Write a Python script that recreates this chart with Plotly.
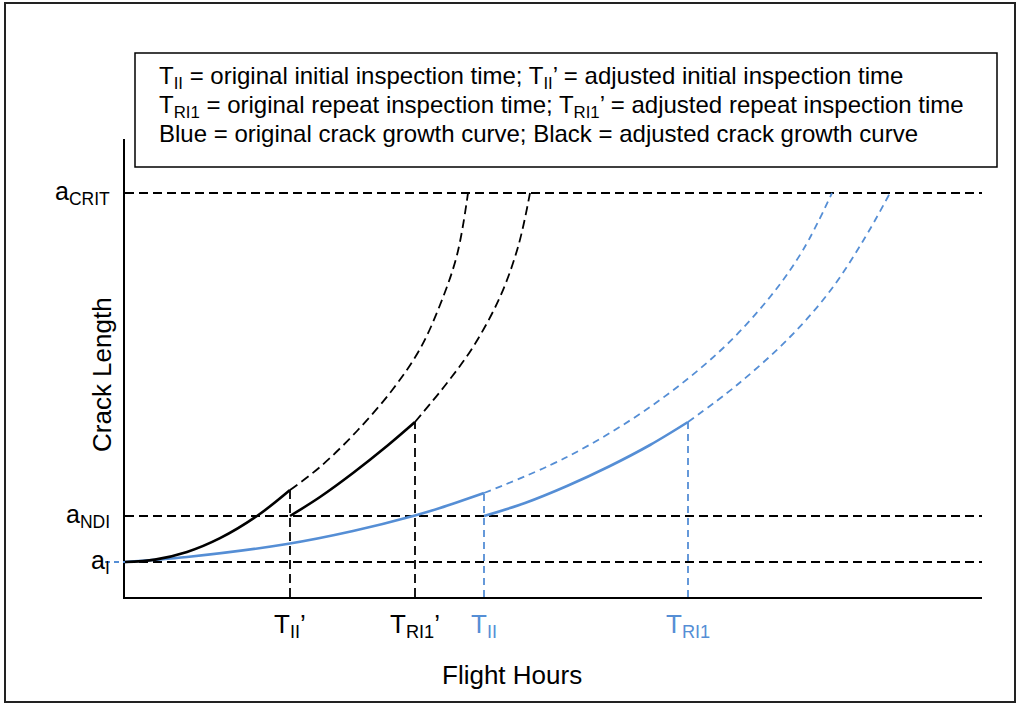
import plotly.graph_objects as go

# ---- data (arbitrary units: flight hours on x, crack length on y) ----
A_I = 35
A_NDI = 81
A_CRIT = 404
X_MAX = 857
Y_MAX = 458

T_II_ADJ = 165
T_RI1_ADJ = 290
T_II = 359
T_RI1 = 563

# adjusted (black) crack growth curves
black1_solid_x = [0, 30, 62, 95, 132, 165]
black1_solid_y = [35, 37.4, 45, 58.8, 81, 107]
black1_dash_x = [165, 195, 232, 268, 295, 315, 332, 343]
black1_dash_y = [107, 130, 166, 208, 248, 292, 342, 404]
black2_solid_x = [165, 195, 228, 262, 290]
black2_solid_y = [81, 100, 124, 151, 175]
black2_dash_x = [290, 322, 348, 375, 393, 405]
black2_dash_y = [175, 214, 250, 300, 350, 404]

# original (blue) crack growth curves
blue1_solid_x = [0, 62, 162, 228, 290, 315, 359]
blue1_solid_y = [35, 40, 53, 66, 81.5, 89, 104]
blue1_dash_x = [359, 442, 525, 595, 645, 678, 707]
blue1_dash_y = [104, 140, 190, 246, 300, 347, 404]
blue2_solid_x = [359, 400, 442, 484, 525, 563]
blue2_solid_y = [81, 94, 111, 130.5, 152, 175]
blue2_dash_x = [563, 612, 665, 705, 738, 765]
blue2_dash_y = [175, 212, 260, 306, 356, 404]

legend_lines = [
    "T<sub>II</sub> = original initial inspection time; T<sub>II</sub>’ = adjusted initial inspection time",
    "T<sub>RI1</sub> = original repeat inspection time; T<sub>RI1</sub>’ = adjusted repeat inspection time",
    "Blue = original crack growth curve; Black = adjusted crack growth curve",
]

BLUE = "#558ED5"
BLACK = "#000000"
FONT = "Liberation Sans, Arial, sans-serif"

W, H = 1020, 706
L, R, T, B = 125, 38, 139, 109


def px_x(px):
    return (px - L) / (W - L - R)


def px_y(py):
    return (H - B - py) / (H - T - B)


fig = go.Figure()


def add_line(x, y, color, width, dash=None, shape="linear"):
    fig.add_trace(go.Scatter(x=x, y=y, mode="lines",
                             line=dict(color=color, width=width, dash=dash, shape=shape),
                             showlegend=False, hoverinfo="skip"))


DASH_BLACK = "9px,5px"
DASH_BLUE = "7px,5px"

# horizontal reference levels
for lvl in [A_I, A_NDI, A_CRIT]:
    add_line([0, X_MAX], [lvl, lvl], BLACK, 1.8, DASH_BLACK)

# vertical inspection-time lines
add_line([T_II_ADJ, T_II_ADJ], [0, black1_solid_y[-1]], BLACK, 1.8, DASH_BLACK)
add_line([T_RI1_ADJ, T_RI1_ADJ], [0, black2_solid_y[-1]], BLACK, 1.8, DASH_BLACK)
add_line([T_II, T_II], [0, blue1_solid_y[-1]], BLUE, 1.8, DASH_BLUE)
add_line([T_RI1, T_RI1], [0, blue2_solid_y[-1]], BLUE, 1.8, DASH_BLUE)

# curves
add_line(blue1_dash_x, blue1_dash_y, BLUE, 1.8, DASH_BLUE, "spline")
add_line(blue2_dash_x, blue2_dash_y, BLUE, 1.8, DASH_BLUE, "spline")
add_line(blue1_solid_x, blue1_solid_y, BLUE, 2.6, None, "spline")
add_line(blue2_solid_x, blue2_solid_y, BLUE, 2.6, None, "spline")
add_line(black1_dash_x, black1_dash_y, BLACK, 1.8, DASH_BLACK, "spline")
add_line(black2_dash_x, black2_dash_y, BLACK, 1.8, DASH_BLACK, "spline")
add_line(black1_solid_x, black1_solid_y, BLACK, 2.6, None, "spline")
add_line(black2_solid_x, black2_solid_y, BLACK, 2.6, None, "spline")

shapes = [
    # outer border
    dict(type="rect", xref="paper", yref="paper",
         x0=px_x(5), x1=px_x(1015), y0=px_y(702), y1=px_y(3),
         line=dict(color="#222222", width=2)),
    # note box
    dict(type="rect", xref="paper", yref="paper",
         x0=px_x(135), x1=px_x(997), y0=px_y(167), y1=px_y(53),
         line=dict(color=BLACK, width=1.5)),
    # blue stub at a_I left of axis
    dict(type="line", xref="paper", yref="y",
         x0=px_x(105), x1=px_x(125), y0=A_I, y1=A_I,
         line=dict(color=BLUE, width=1.8, dash="5px,4px")),
]

ann = []
for i, txt in enumerate(legend_lines):
    ann.append(dict(text=txt, xref="paper", yref="paper", x=px_x(157), y=px_y([78, 106, 133][i]),
                    xanchor="left", yanchor="middle", showarrow=False,
                    font=dict(family=FONT, size=24, color=BLACK)))

# y labels
for txt, lvl in [("a<sub>CRIT</sub>", A_CRIT), ("a<sub>NDI</sub>", A_NDI), ("a<sub>I</sub>", A_I)]:
    ann.append(dict(text=txt, xref="paper", yref="y", x=px_x(112), y=lvl,
                    xanchor="right", yanchor="middle", showarrow=False,
                    font=dict(family=FONT, size=25, color=BLACK)))

# x labels
for txt, xv, col in [("T<sub>II</sub>’", T_II_ADJ, BLACK), ("T<sub>RI1</sub>’", T_RI1_ADJ, BLACK),
                     ("T<sub>II</sub>", T_II, BLUE), ("T<sub>RI1</sub>", T_RI1, BLUE)]:
    ann.append(dict(text=txt, xref="x", yref="paper", x=xv, y=px_y(625),
                    xanchor="center", yanchor="middle", showarrow=False,
                    font=dict(family=FONT, size=26, color=col)))

ann.append(dict(text="Flight Hours", xref="paper", yref="paper", x=px_x(512), y=px_y(675),
                xanchor="center", yanchor="middle", showarrow=False,
                font=dict(family=FONT, size=26, color=BLACK)))
ann.append(dict(text="Crack Length", xref="paper", yref="paper", x=px_x(102), y=px_y(375),
                xanchor="center", yanchor="middle", showarrow=False, textangle=-90,
                font=dict(family=FONT, size=26, color=BLACK)))

fig.update_layout(
    width=W, height=H,
    margin=dict(l=L, r=R, t=T, b=B, pad=0),
    paper_bgcolor="white", plot_bgcolor="white",
    xaxis=dict(range=[0, X_MAX], showgrid=False, zeroline=False, showticklabels=False,
               ticks="", showline=True, linecolor=BLACK, linewidth=2, fixedrange=True),
    yaxis=dict(range=[0, Y_MAX], showgrid=False, zeroline=False, showticklabels=False,
               ticks="", showline=True, linecolor=BLACK, linewidth=2, fixedrange=True),
    shapes=shapes, annotations=ann, showlegend=False,
)

fig.write_html("out.html", config={"displayModeBar": False},
               post_script="document.body.style.margin='0px';")
